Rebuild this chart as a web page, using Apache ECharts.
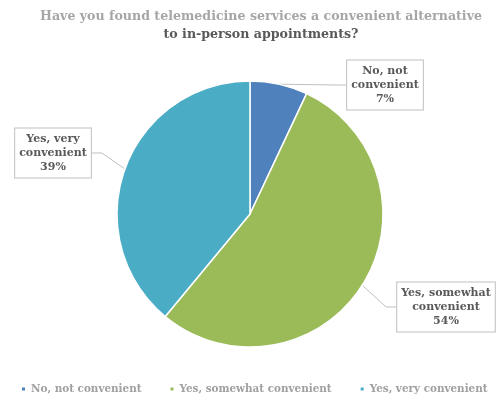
<!DOCTYPE html>
<html>
<head>
<meta charset="utf-8">
<script src="https://cdn.jsdelivr.net/npm/echarts@6/dist/echarts.min.js"></script>
<style>
  html, body { margin: 0; padding: 0; background: #fff; }
  #main { width: 496px; height: 407px; }
</style>
</head>
<body>
<div id="main"></div>
<script>
  // data
  var categories = ['No, not convenient', 'Yes, somewhat convenient', 'Yes, very convenient'];
  var labelText = ['No, not\nconvenient', 'Yes, somewhat\nconvenient', 'Yes, very\nconvenient'];
  var values = [7, 54, 39];
  var colors = ['#4f81bd', '#9bbb59', '#4bacc6'];
  // where each callout box sits (centre)
  var labelPos = [[385, 85], [446, 307], [53, 153]];

  var seriesData = [];
  for (var i = 0; i < categories.length; i++) {
    seriesData.push({ name: categories[i], value: values[i], itemStyle: { color: colors[i] } });
  }

  var serif = 'DejaVu Serif';
  var chart = echarts.init(document.getElementById('main'));
  chart.setOption({
    animation: false,
    title: {
      text: '{a|Have you found telemedicine services a convenient alternative}\n{b|to in-person appointments?}',
      left: 256,
      textAlign: 'center',
      top: 3,
      textStyle: {
        rich: {
          a: { fontFamily: serif, fontWeight: 'bold', fontSize: 12.6, color: '#a6a6a6', lineHeight: 17.5 },
          b: { fontFamily: serif, fontWeight: 'bold', fontSize: 12.6, color: '#595959', lineHeight: 17.5 }
        }
      }
    },
    legend: {
      bottom: 8,
      left: 20,
      padding: [5, 0, 5, 0],
      itemWidth: 5,
      itemHeight: 5,
      itemGap: 27,
      icon: 'rect',
      textStyle: { fontFamily: serif, fontWeight: 'bold', fontSize: 10.4, color: '#a0a0a0' },
      data: categories
    },
    series: [{
      type: 'pie',
      center: [250, 214],
      radius: 133,
      startAngle: 90,
      clockwise: true,
      itemStyle: { borderColor: '#fff', borderWidth: 1.5 },
      label: {
        show: true,
        formatter: function (p) {
          return labelText[p.dataIndex] + '\n' + p.value + '%';
        },
        fontFamily: serif,
        fontWeight: 'bold',
        fontSize: 11,
        lineHeight: 14,
        color: '#595959',
        align: 'center',
        backgroundColor: '#fff',
        borderColor: '#bfbfbf',
        borderWidth: 1,
        padding: [4, 4, 3, 4]
      },
      labelLine: {
        show: true,
        length: 10,
        length2: 10,
        lineStyle: { color: '#bfbfbf', width: 1 }
      },
      labelLayout: function (p) {
        var pos = labelPos[p.dataIndex];
        return { x: pos[0], y: pos[1], align: 'center', verticalAlign: 'middle' };
      },
      data: seriesData
    }]
  });
</script>
</body>
</html>
